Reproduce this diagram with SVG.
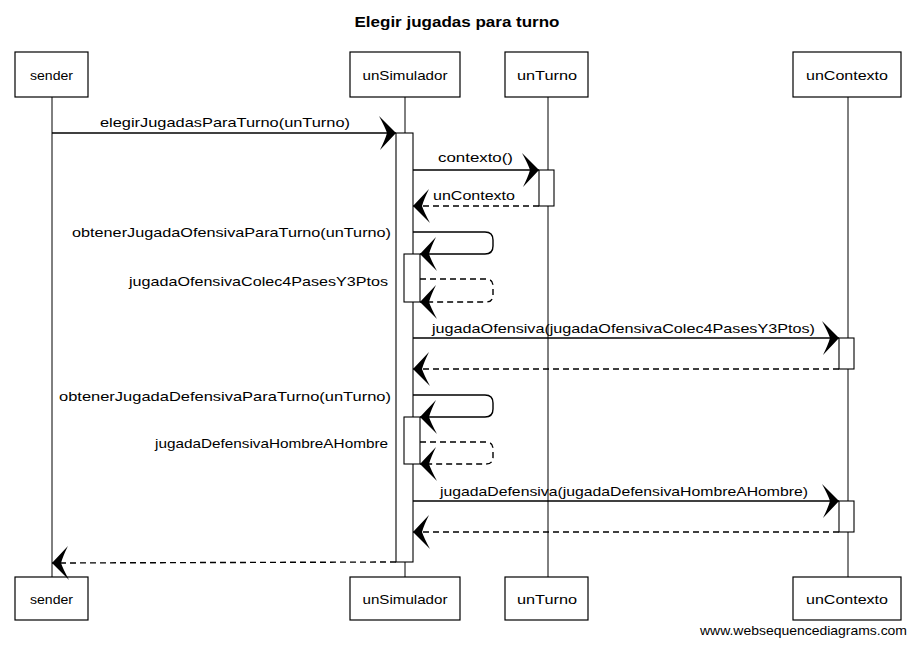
<svg xmlns="http://www.w3.org/2000/svg" width="915" height="645" viewBox="0 0 915 645">
<style>
  .bg { fill: #ffffff; }
  .box { fill: #ffffff; stroke: #000000; stroke-width: 1.2; }
  .life { fill: none; stroke: #000000; stroke-width: 1; }
  .act { fill: #ffffff; stroke: #000000; stroke-width: 1.1; }
  .msg { fill: none; stroke: #000000; stroke-width: 1.4; }
  .ret { fill: none; stroke: #000000; stroke-width: 1.4; stroke-dasharray: 6 4; }
  .t { font-family: "Liberation Sans", "DejaVu Sans", sans-serif; font-size: 13px; fill: #000000; }
  .pt { text-anchor: middle; }
  .lbl { font-family: "Liberation Sans", "DejaVu Sans", sans-serif; font-size: 13px; fill: #000000; }
  .title { font-family: "Liberation Sans", "DejaVu Sans", sans-serif; font-size: 14px; font-weight: bold; fill: #000000; text-anchor: middle; }
  .wm { font-family: "Liberation Sans Narrow", "Liberation Sans", sans-serif; font-size: 13px; fill: #000000; }
</style>
<defs>
  <marker id="ah" viewBox="-18 -18 20 36" refX="0" refY="0" markerWidth="20" markerHeight="36" orient="auto" markerUnits="userSpaceOnUse">
    <path d="M0,0 L-17,-17 Q-11,-6 -9,0 Q-11,7 -16,17 Z" fill="#000000" stroke="none"/>
  </marker>
</defs>
<rect class="bg" x="0" y="0" width="915" height="645"/>

<text class="title" x="457" y="27" textLength="205" lengthAdjust="spacingAndGlyphs">Elegir jugadas para turno</text>

<g id="lifelines">
  <line class="life" x1="52" y1="97" x2="52" y2="577"/>
  <line class="life" x1="405" y1="97" x2="405" y2="577"/>
  <line class="life" x1="548" y1="97" x2="548" y2="577"/>
  <line class="life" x1="848" y1="97" x2="848" y2="577"/>
</g>

<g id="sender">
  <rect class="box" x="15" y="52" width="73" height="45"/>
  <text class="t pt" x="51.5" y="80" textLength="43" lengthAdjust="spacingAndGlyphs">sender</text>
  <rect class="box" x="15" y="577" width="73" height="43"/>
  <text class="t pt" x="51.5" y="604" textLength="43" lengthAdjust="spacingAndGlyphs">sender</text>
</g>
<g id="unSimulador">
  <rect class="box" x="350" y="52" width="110" height="45"/>
  <text class="t pt" x="405" y="80" textLength="85" lengthAdjust="spacingAndGlyphs">unSimulador</text>
  <rect class="box" x="350" y="577" width="110" height="43"/>
  <text class="t pt" x="405" y="604" textLength="85" lengthAdjust="spacingAndGlyphs">unSimulador</text>
</g>
<g id="unTurno">
  <rect class="box" x="505" y="52" width="83" height="45"/>
  <text class="t pt" x="547" y="80" textLength="60" lengthAdjust="spacingAndGlyphs">unTurno</text>
  <rect class="box" x="505" y="577" width="83" height="43"/>
  <text class="t pt" x="547" y="604" textLength="60" lengthAdjust="spacingAndGlyphs">unTurno</text>
</g>
<g id="unContexto">
  <rect class="box" x="793" y="52" width="108" height="45"/>
  <text class="t pt" x="847" y="80" textLength="82" lengthAdjust="spacingAndGlyphs">unContexto</text>
  <rect class="box" x="793" y="577" width="108" height="43"/>
  <text class="t pt" x="847" y="604" textLength="82" lengthAdjust="spacingAndGlyphs">unContexto</text>
</g>

<g id="activations">
  <rect class="act" x="396" y="133" width="17" height="429"/>
  <rect class="act" x="539" y="170" width="15" height="36"/>
  <rect class="act" x="404" y="254" width="16" height="48"/>
  <rect class="act" x="404" y="417" width="16" height="47"/>
  <rect class="act" x="839" y="338" width="15" height="31"/>
  <rect class="act" x="839" y="501" width="15" height="31"/>
</g>

<g id="connectors">
  <path class="msg" d="M52,133 L396,133" marker-end="url(#ah)"/>
  <path class="msg" d="M413,170 L539,170" marker-end="url(#ah)"/>
  <path class="ret" d="M539,206 L413,206" marker-end="url(#ah)"/>
  <path class="msg" d="M413,232 L485,232 Q493,232 493,240 L493,246 Q493,254 485,254 L420,254" marker-end="url(#ah)"/>
  <path class="ret" d="M420,279 L486,279 Q493,279 493,286 L493,295 Q493,302 486,302 L420,302" marker-end="url(#ah)"/>
  <path class="msg" d="M413,338 L839,338" marker-end="url(#ah)"/>
  <path class="ret" d="M839,369 L413,369" marker-end="url(#ah)"/>
  <path class="msg" d="M413,395 L485,395 Q493,395 493,403 L493,409 Q493,417 485,417 L420,417" marker-end="url(#ah)"/>
  <path class="ret" d="M420,442 L486,442 Q493,442 493,449 L493,457 Q493,464 486,464 L420,464" marker-end="url(#ah)"/>
  <path class="msg" d="M413,501 L839,501" marker-end="url(#ah)"/>
  <path class="ret" d="M839,532 L413,532" marker-end="url(#ah)"/>
  <path class="ret" d="M396,562 L52,563" marker-end="url(#ah)"/>
</g>

<g id="labels">
  <text class="lbl" x="100" y="127" textLength="250" lengthAdjust="spacingAndGlyphs">elegirJugadasParaTurno(unTurno)</text>
  <text class="lbl" x="438" y="162" textLength="75" lengthAdjust="spacingAndGlyphs">contexto()</text>
  <text class="lbl" x="433" y="200" textLength="82" lengthAdjust="spacingAndGlyphs">unContexto</text>
  <text class="lbl" x="72" y="237" textLength="319" lengthAdjust="spacingAndGlyphs">obtenerJugadaOfensivaParaTurno(unTurno)</text>
  <text class="lbl" x="129" y="286" textLength="259" lengthAdjust="spacingAndGlyphs">jugadaOfensivaColec4PasesY3Ptos</text>
  <text class="lbl" x="432" y="333" textLength="383" lengthAdjust="spacingAndGlyphs">jugadaOfensiva(jugadaOfensivaColec4PasesY3Ptos)</text>
  <text class="lbl" x="59" y="401" textLength="332" lengthAdjust="spacingAndGlyphs">obtenerJugadaDefensivaParaTurno(unTurno)</text>
  <text class="lbl" x="155" y="448" textLength="233" lengthAdjust="spacingAndGlyphs">jugadaDefensivaHombreAHombre</text>
  <text class="lbl" x="440" y="496" textLength="368" lengthAdjust="spacingAndGlyphs">jugadaDefensiva(jugadaDefensivaHombreAHombre)</text>
</g>

<text class="wm" x="700" y="635" textLength="207" lengthAdjust="spacingAndGlyphs">www.websequencediagrams.com</text>
</svg>
